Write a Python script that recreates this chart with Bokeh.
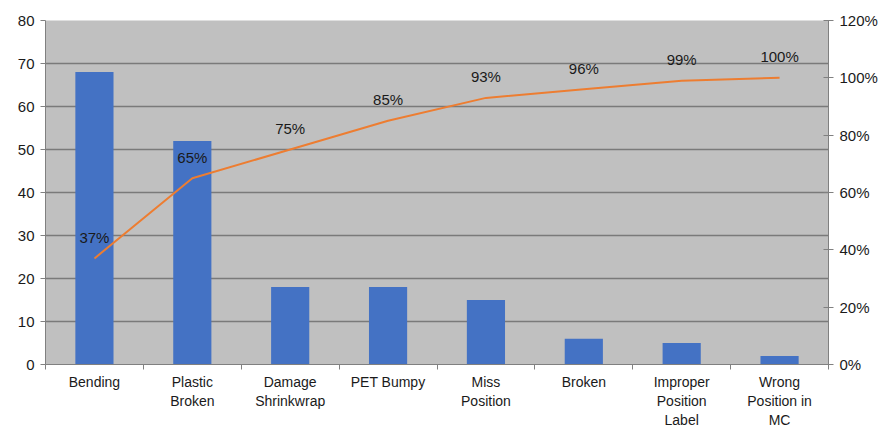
from bokeh.plotting import figure
from bokeh.models import (ColumnDataSource, Range1d, LinearAxis, FixedTicker,
                          NumeralTickFormatter)
from bokeh.core.properties import value
from bokeh.embed import file_html
from bokeh.resources import INLINE

categories = ["Bending", "Plastic\nBroken", "Damage\nShrinkwrap", "PET Bumpy",
              "Miss\nPosition", "Broken", "Improper\nPosition\nLabel",
              "Wrong\nPosition in\nMC"]
counts = [68, 52, 18, 18, 15, 6, 5, 2]
cum_pct = [0.37, 0.65, 0.75, 0.85, 0.93, 0.96, 0.99, 1.00]
cum_labels = ["37%", "65%", "75%", "85%", "93%", "96%", "99%", "100%"]

xs = [i + 0.5 for i in range(len(categories))]
src = ColumnDataSource(dict(x=xs, count=counts, pct=cum_pct, lab=cum_labels))

FONT = "Liberation Sans"

p = figure(width=891, height=430, output_backend="svg", toolbar_location=None,
           x_range=Range1d(0, 8), y_range=Range1d(0, 80),
           min_border_left=45, min_border_right=63, min_border_top=20,
           min_border_bottom=60)
p.background_fill_color = "#c0c0c0"
p.border_fill_color = "white"
p.outline_line_color = None
p.extra_y_ranges = {"pct": Range1d(0, 1.2)}

p.vbar(x="x", top="count", width=0.39, bottom=0, source=src,
       fill_color="#4472c4", line_color=None)
p.line(x="x", y="pct", source=src, y_range_name="pct",
       line_color="#ed7d31", line_width=2)
p.text(x="x", y="pct", text="lab", source=src, y_range_name="pct",
       text_align="center", text_baseline="middle", y_offset=-21,
       text_font=value(FONT), text_font_size="15px", text_color="#1a1a1a")

# x axis
xa = p.xaxis[0]
xa.ticker = FixedTicker(ticks=xs, minor_ticks=list(range(9)))
xa.major_label_overrides = {x: c for x, c in zip(xs, categories)}
xa.major_tick_line_color = None
xa.major_tick_out = 0
xa.major_tick_in = 0
xa.minor_tick_in = 0
xa.minor_tick_out = 5
xa.minor_tick_line_color = "#808080"
xa.axis_line_color = "#808080"
xa.major_label_text_font = FONT
xa.major_label_text_font_size = "14px"
xa.major_label_text_color = "#1a1a1a"
xa.major_label_standoff = 4

# left axis
ya = p.yaxis[0]
ya.ticker = FixedTicker(ticks=list(range(0, 81, 10)))
ya.minor_tick_line_color = None
ya.major_tick_in = 0
ya.major_tick_out = 5
ya.major_tick_line_color = "#808080"
ya.axis_line_color = "#808080"
ya.major_label_text_font = FONT
ya.major_label_text_font_size = "15px"
ya.major_label_text_color = "#1a1a1a"
ya.major_label_standoff = 6

# right axis
ra = LinearAxis(y_range_name="pct",
                ticker=FixedTicker(ticks=[0, 0.2, 0.4, 0.6, 0.8, 1.0, 1.2]),
                formatter=NumeralTickFormatter(format="0%"))
ra.minor_tick_line_color = None
ra.major_tick_in = 5
ra.major_tick_out = 5
ra.major_tick_line_color = "#808080"
ra.axis_line_color = "#808080"
ra.major_label_text_font = FONT
ra.major_label_text_font_size = "15px"
ra.major_label_text_color = "#1a1a1a"
ra.major_label_standoff = 6
p.add_layout(ra, "right")

p.xgrid.grid_line_color = None
p.ygrid.ticker = FixedTicker(ticks=list(range(10, 81, 10)))
p.ygrid.grid_line_color = "#7a7a7a"
p.ygrid.grid_line_width = 1.5

open("out.html", "w").write(file_html(p, INLINE))
